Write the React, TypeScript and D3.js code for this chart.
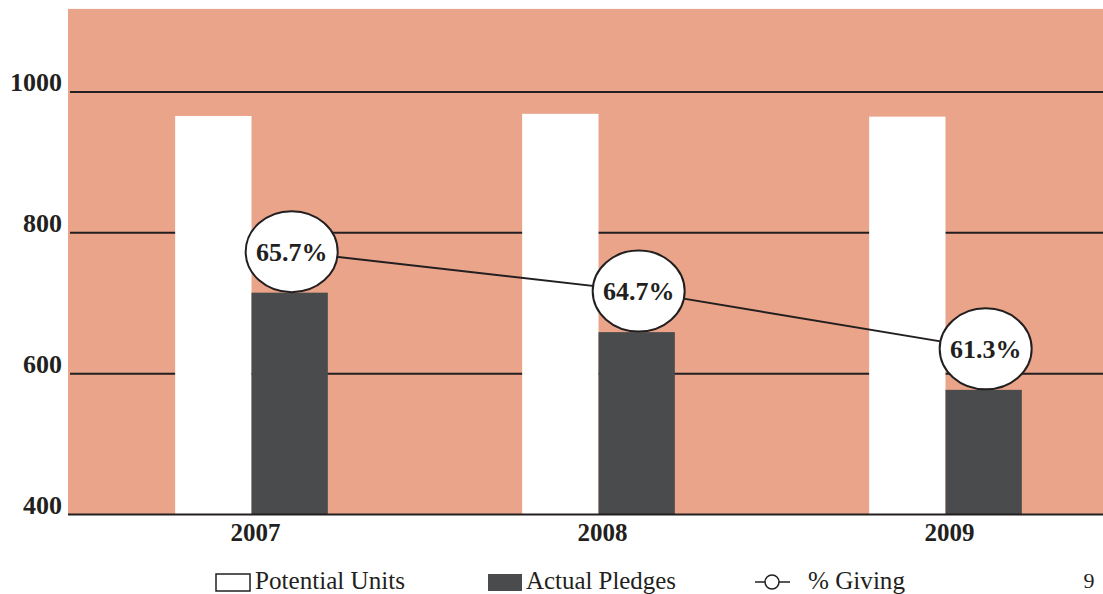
import React, { useRef, useEffect } from 'react';
import * as d3 from 'd3';

const years = ['2007', '2008', '2009'];
const potentialUnits = [966, 969, 965];
const actualPledges = [715, 659, 577];
const percentGiving = ['65.7%', '64.7%', '61.3%'];
const yTicks = [400, 600, 800, 1000];
const seriesNames = ['Potential Units', 'Actual Pledges'];

const W = 1103;
const H = 594;
const SALMON = '#E9A48A';
const DARK = '#4A4B4D';
const INK = '#231F20';
const SERIF = "'Liberation Serif', 'DejaVu Serif', serif";

const App: React.FC = () => {
  const svgRef = useRef<SVGSVGElement>(null);

  useEffect(() => {
    if (!svgRef.current) return;
    const svg = d3.select(svgRef.current);
    svg.selectAll('*').remove();

    const y = d3.scaleLinear().domain([400, 1000]).range([514.5, 92]);
    const x = d3.scaleBand<string>()
      .domain(years)
      .range([78, 1119])
      .paddingInner(0.56)
      .paddingOuter(0.28);
    const xs = d3.scaleBand<string>().domain(seriesNames).range([0, x.bandwidth()]);

    // plot background
    svg.append('rect')
      .attr('x', 68)
      .attr('y', y(1118))
      .attr('width', W - 68)
      .attr('height', y(400) - y(1118))
      .attr('fill', SALMON);

    // gridlines (behind bars)
    svg.append('g')
      .selectAll('line')
      .data(yTicks.filter((t) => t > 400))
      .join('line')
      .attr('x1', 70)
      .attr('x2', W)
      .attr('y1', (d) => y(d))
      .attr('y2', (d) => y(d))
      .attr('stroke', INK)
      .attr('stroke-width', 2);

    // bars
    const groups = svg.append('g')
      .selectAll('g')
      .data(years)
      .join('g')
      .attr('transform', (d) => `translate(${x(d)},0)`);

    groups.append('rect')
      .attr('x', xs('Potential Units')!)
      .attr('width', xs.bandwidth())
      .attr('y', (_, i) => y(potentialUnits[i]))
      .attr('height', (_, i) => y(400) - y(potentialUnits[i]))
      .attr('fill', '#ffffff');

    groups.append('rect')
      .attr('x', xs('Actual Pledges')!)
      .attr('width', xs.bandwidth())
      .attr('y', (_, i) => y(actualPledges[i]))
      .attr('height', (_, i) => y(400) - y(actualPledges[i]))
      .attr('fill', DARK);

    // baseline
    svg.append('line')
      .attr('x1', 68)
      .attr('x2', W)
      .attr('y1', y(400))
      .attr('y2', y(400))
      .attr('stroke', INK)
      .attr('stroke-width', 2);

    // y tick labels
    svg.append('g')
      .selectAll('text')
      .data(yTicks)
      .join('text')
      .attr('x', 62)
      .attr('y', (d) => y(d) - 1)
      .attr('text-anchor', 'end')
      .style('font-family', SERIF)
      .attr('font-weight', 'bold')
      .attr('font-size', 26)
      .attr('fill', INK)
      .text((d) => d);

    // x labels
    svg.append('g')
      .selectAll('text')
      .data(years)
      .join('text')
      .attr('x', (d) => x(d)! + x.bandwidth() / 2 + 4)
      .attr('y', 541)
      .attr('text-anchor', 'middle')
      .style('font-family', SERIF)
      .attr('font-weight', 'bold')
      .attr('font-size', 25)
      .attr('fill', INK)
      .text((d) => d);

    // % giving line: markers sit just above the pledge bars
    const pts: [number, number][] = years.map((yr, i) => [
      x(yr)! + xs('Actual Pledges')! + xs.bandwidth() / 2 + 2,
      y(actualPledges[i]) - 41,
    ]);
    svg.append('path')
      .attr('d', d3.line()(pts))
      .attr('fill', 'none')
      .attr('stroke', INK)
      .attr('stroke-width', 2);

    const marks = svg.append('g')
      .selectAll('g')
      .data(pts)
      .join('g')
      .attr('transform', (d) => `translate(${d[0]},${d[1]})`);
    marks.append('ellipse')
      .attr('rx', 46)
      .attr('ry', 40.5)
      .attr('fill', '#ffffff')
      .attr('stroke', INK)
      .attr('stroke-width', 2);
    marks.append('text')
      .attr('y', 9)
      .attr('text-anchor', 'middle')
      .style('font-family', SERIF)
      .attr('font-weight', 'bold')
      .attr('font-size', 26)
      .attr('fill', INK)
      .text((_, i) => percentGiving[i]);

    // legend
    const lg = svg.append('g').style('font-family', SERIF).attr('font-size', 25).attr('fill', INK);
    lg.append('rect').attr('x', 216).attr('y', 574).attr('width', 34).attr('height', 17)
      .attr('fill', '#ffffff').attr('stroke', INK).attr('stroke-width', 1.5);
    lg.append('text').attr('x', 255).attr('y', 589)
      .attr('textLength', 150).attr('lengthAdjust', 'spacingAndGlyphs').text('Potential Units');
    lg.append('rect').attr('x', 488).attr('y', 574).attr('width', 34).attr('height', 17)
      .attr('fill', DARK);
    lg.append('text').attr('x', 526).attr('y', 589)
      .attr('textLength', 150).attr('lengthAdjust', 'spacingAndGlyphs').text('Actual Pledges');
    lg.append('line').attr('x1', 755).attr('x2', 790).attr('y1', 582).attr('y2', 582)
      .attr('stroke', INK).attr('stroke-width', 1.5);
    lg.append('circle').attr('cx', 772).attr('cy', 582).attr('r', 7)
      .attr('fill', '#ffffff').attr('stroke', INK).attr('stroke-width', 1.5);
    lg.append('text').attr('x', 808).attr('y', 589)
      .attr('textLength', 97).attr('lengthAdjust', 'spacingAndGlyphs').text('% Giving');

    // page number
    svg.append('text')
      .attr('x', 1089)
      .attr('y', 588)
      .attr('text-anchor', 'middle')
      .style('font-family', SERIF)
      .attr('font-size', 22)
      .attr('fill', INK)
      .text('9');
  }, []);

  return (
    <svg
      ref={svgRef}
      width={W}
      height={H}
      style={{ position: 'absolute', left: 0, top: 0, background: '#ffffff' }}
    />
  );
};

export default App;
